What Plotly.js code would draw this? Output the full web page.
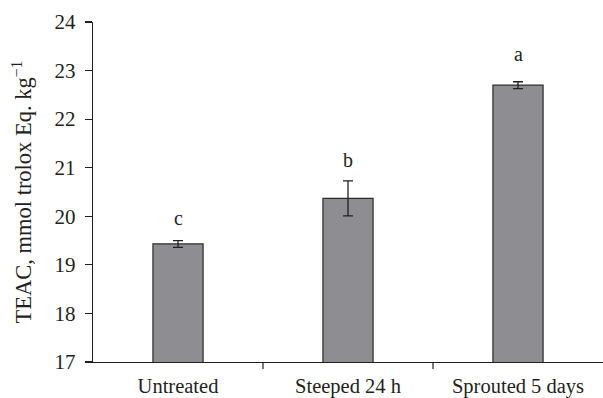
<!DOCTYPE html>
<html><head><meta charset="utf-8">
<script src="https://cdn.plot.ly/plotly-3.0.1.min.js"></script>
<style>html,body{margin:0;padding:0;background:#fff}#chart{width:603px;height:398px}</style>
</head><body><div id="chart"></div>
<script>
const categories = ["Untreated", "Steeped 24 h", "Sprouted 5 days"];
const values = [19.43, 20.37, 22.70];
const errors = [0.07, 0.36, 0.07];
const letters = ["c", "b", "a"];
const yTicks = [17, 18, 19, 20, 21, 22, 23, 24];

const font = {family: "Liberation Serif, Times New Roman, serif", color: "#231f20"};
const letterShift = [10, 8, 15];

const trace = {
  type: "bar",
  x: categories,
  y: values,
  width: 0.295,
  marker: {color: "#8e8e92", line: {color: "#2b2b2b", width: 1.2}},
  error_y: {type: "data", array: errors, visible: true, color: "#231f20", thickness: 1.3, width: 5}
};

const annotations = categories.map((c, i) => ({
  x: c, y: values[i] + errors[i], text: letters[i], showarrow: false,
  yanchor: "bottom", yshift: letterShift[i], font: Object.assign({size: 20}, font)
}));

const layout = {
  width: 603, height: 398,
  margin: {l: 93, r: 0, t: 22, b: 36},
  paper_bgcolor: "#fff", plot_bgcolor: "#fff",
  showlegend: false,
  font: font,
  xaxis: {
    type: "category", range: [-0.5, 2.5],
    showline: true, linecolor: "#231f20", linewidth: 1.2,
    ticks: "", ticklabelstandoff: 5,
    tickfont: Object.assign({size: 20.5}, font),
    showgrid: false, zeroline: false
  },
  yaxis: {
    range: [17, 24], tickvals: yTicks,
    showline: true, linecolor: "#231f20", linewidth: 1.2,
    ticks: "outside", ticklen: 7, tickcolor: "#231f20", tickwidth: 1.2,
    ticklabelstandoff: 5,
    tickfont: Object.assign({size: 21}, font),
    showgrid: false, zeroline: false,
    title: {text: "TEAC, mmol trolox Eq. kg<sup>−1</sup>", font: Object.assign({size: 22.5}, font), standoff: 16}
  },
  shapes: [0.5, 1.5].map(v => ({
    type: "line", xref: "x", yref: "paper", ysizemode: "pixel", yanchor: 0,
    x0: v, x1: v, y0: -7, y1: 0,
    line: {color: "#231f20", width: 1.2}
  })),
  annotations: annotations
};

Plotly.newPlot("chart", [trace], layout, {staticPlot: true, displayModeBar: false});
</script></body></html>
